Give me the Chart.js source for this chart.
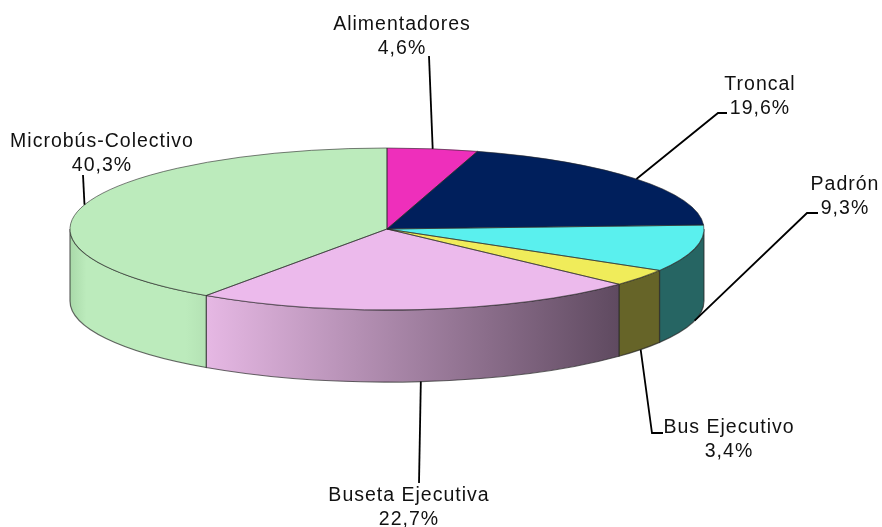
<!DOCTYPE html>
<html>
<head>
<meta charset="utf-8">
<script src="https://cdn.jsdelivr.net/npm/chart.js@4"></script>
<style>
  html, body { margin: 0; padding: 0; background: #fff; }
  canvas { display: block; }
</style>
</head>
<body>
<canvas id="pieTransporte" width="882" height="527"></canvas>
<script>
const categories = ['Alimentadores', 'Troncal', 'Padrón', 'Bus Ejecutivo', 'Buseta Ejecutiva', 'Microbús-Colectivo'];
const shares = [4.6, 19.6, 9.3, 3.4, 22.7, 40.3];

const topColors = ['#EE2FBB', '#001F5C', '#5AF0EE', '#F0EC5A', '#ECBAEC', '#BCEBBC'];
const sideColors = [null, null, ['#266563', '#266563'], ['#666428', '#666428'],
    ['#E6B8E4', '#5F4A60'], ['#A9D9A9', '#BCEBBC']];

// where the flattened pie sits on the page
const view = { cx: 387, cy: 229, rx: 317, ry: 81, depth: 72 };

// label placement, same order as categories
const labelLayout = [
    { x: 402, y: 30, from: [429, 56], side: false },
    { x: 760, y: 90, from: [727, 113], knee: [718, 113], side: false },
    { x: 845, y: 190, from: [818, 213], knee: [807, 213], side: true },
    { x: 729, y: 433, from: [663, 433], knee: [652, 433], side: true },
    { x: 409, y: 501, from: [419, 483], side: true },
    { x: 102, y: 147, from: [83, 175], side: false },
];

const FONT = '19.5px "Liberation Sans", Arial, sans-serif';

function slicePath(ctx, arc) {
    ctx.beginPath();
    ctx.moveTo(view.cx, view.cy);
    ctx.ellipse(view.cx, view.cy, view.rx, view.ry, 0, arc.startAngle, arc.endAngle);
    ctx.closePath();
}

const pie3d = {
    id: 'pie3d',
    beforeDatasetsDraw(chart) {
        const ctx = chart.ctx;
        const arcs = chart.getDatasetMeta(0).data;

        // side walls, only the front half of the rim can be seen
        arcs.forEach((arc, i) => {
            const a0 = Math.max(arc.startAngle, 0);
            const a1 = Math.min(arc.endAngle, Math.PI);
            if (a1 <= a0 || !sideColors[i]) return;
            const x0 = view.cx + view.rx * Math.cos(a0);
            const x1 = view.cx + view.rx * Math.cos(a1);
            const g = ctx.createLinearGradient(x1, 0, x0, 0);
            g.addColorStop(0, sideColors[i][0]);
            if (i === 5) {
                g.addColorStop(0.12, sideColors[i][1]);
                g.addColorStop(0.85, sideColors[i][1]);
                g.addColorStop(1, '#B4E2B4');
            } else {
                g.addColorStop(1, sideColors[i][1]);
            }
            ctx.beginPath();
            ctx.ellipse(view.cx, view.cy, view.rx, view.ry, 0, a0, a1);
            ctx.ellipse(view.cx, view.cy + view.depth, view.rx, view.ry, 0, a1, a0, true);
            ctx.closePath();
            ctx.fillStyle = g;
            ctx.fill();
            ctx.strokeStyle = 'rgba(40,40,40,0.7)';
            ctx.lineWidth = 1.2;
            ctx.stroke();
        });

        // squash the round pie into the top face
        const r = arcs[0].outerRadius;
        ctx.save();
        ctx.translate(view.cx, view.cy);
        ctx.scale(view.rx / r, view.ry / r);
        ctx.translate(-arcs[0].x, -arcs[0].y);
    },
    afterDatasetsDraw(chart) {
        const ctx = chart.ctx;
        ctx.restore();

        const arcs = chart.getDatasetMeta(0).data;
        ctx.lineWidth = 1;
        ctx.strokeStyle = 'rgba(40,40,40,0.6)';
        arcs.forEach(arc => {
            slicePath(ctx, arc);
            ctx.stroke();
        });

        // leader lines and labels
        ctx.font = FONT;
        ctx.letterSpacing = '1px';
        ctx.textAlign = 'center';
        ctx.textBaseline = 'alphabetic';
        arcs.forEach((arc, i) => {
            const l = labelLayout[i];
            const mid = (arc.startAngle + arc.endAngle) / 2;
            const ax = view.cx + view.rx * Math.cos(mid);
            const ay = view.cy + view.ry * Math.sin(mid) + (l.side ? view.depth : 0);
            ctx.beginPath();
            ctx.moveTo(ax, ay);
            if (l.knee) ctx.lineTo(l.knee[0], l.knee[1]);
            ctx.lineTo(l.from[0], l.from[1]);
            ctx.strokeStyle = '#000';
            ctx.lineWidth = 1.8;
            ctx.stroke();

            ctx.fillStyle = '#111';
            ctx.fillText(categories[i], l.x, l.y);
            ctx.fillText(shares[i].toFixed(1).replace('.', ',') + '%', l.x, l.y + 23.5);
        });
    }
};

const pieChart = new Chart(document.getElementById('pieTransporte'), {
    type: 'pie',
    data: {
        labels: categories,
        datasets: [{
            data: shares,
            backgroundColor: topColors,
            borderWidth: 0,
        }]
    },
    options: {
        responsive: false,
        animation: false,
        layout: { padding: 0 },
        plugins: {
            legend: { display: false },
            tooltip: { enabled: false },
        }
    },
    plugins: [pie3d]
});
</script>
</body>
</html>
